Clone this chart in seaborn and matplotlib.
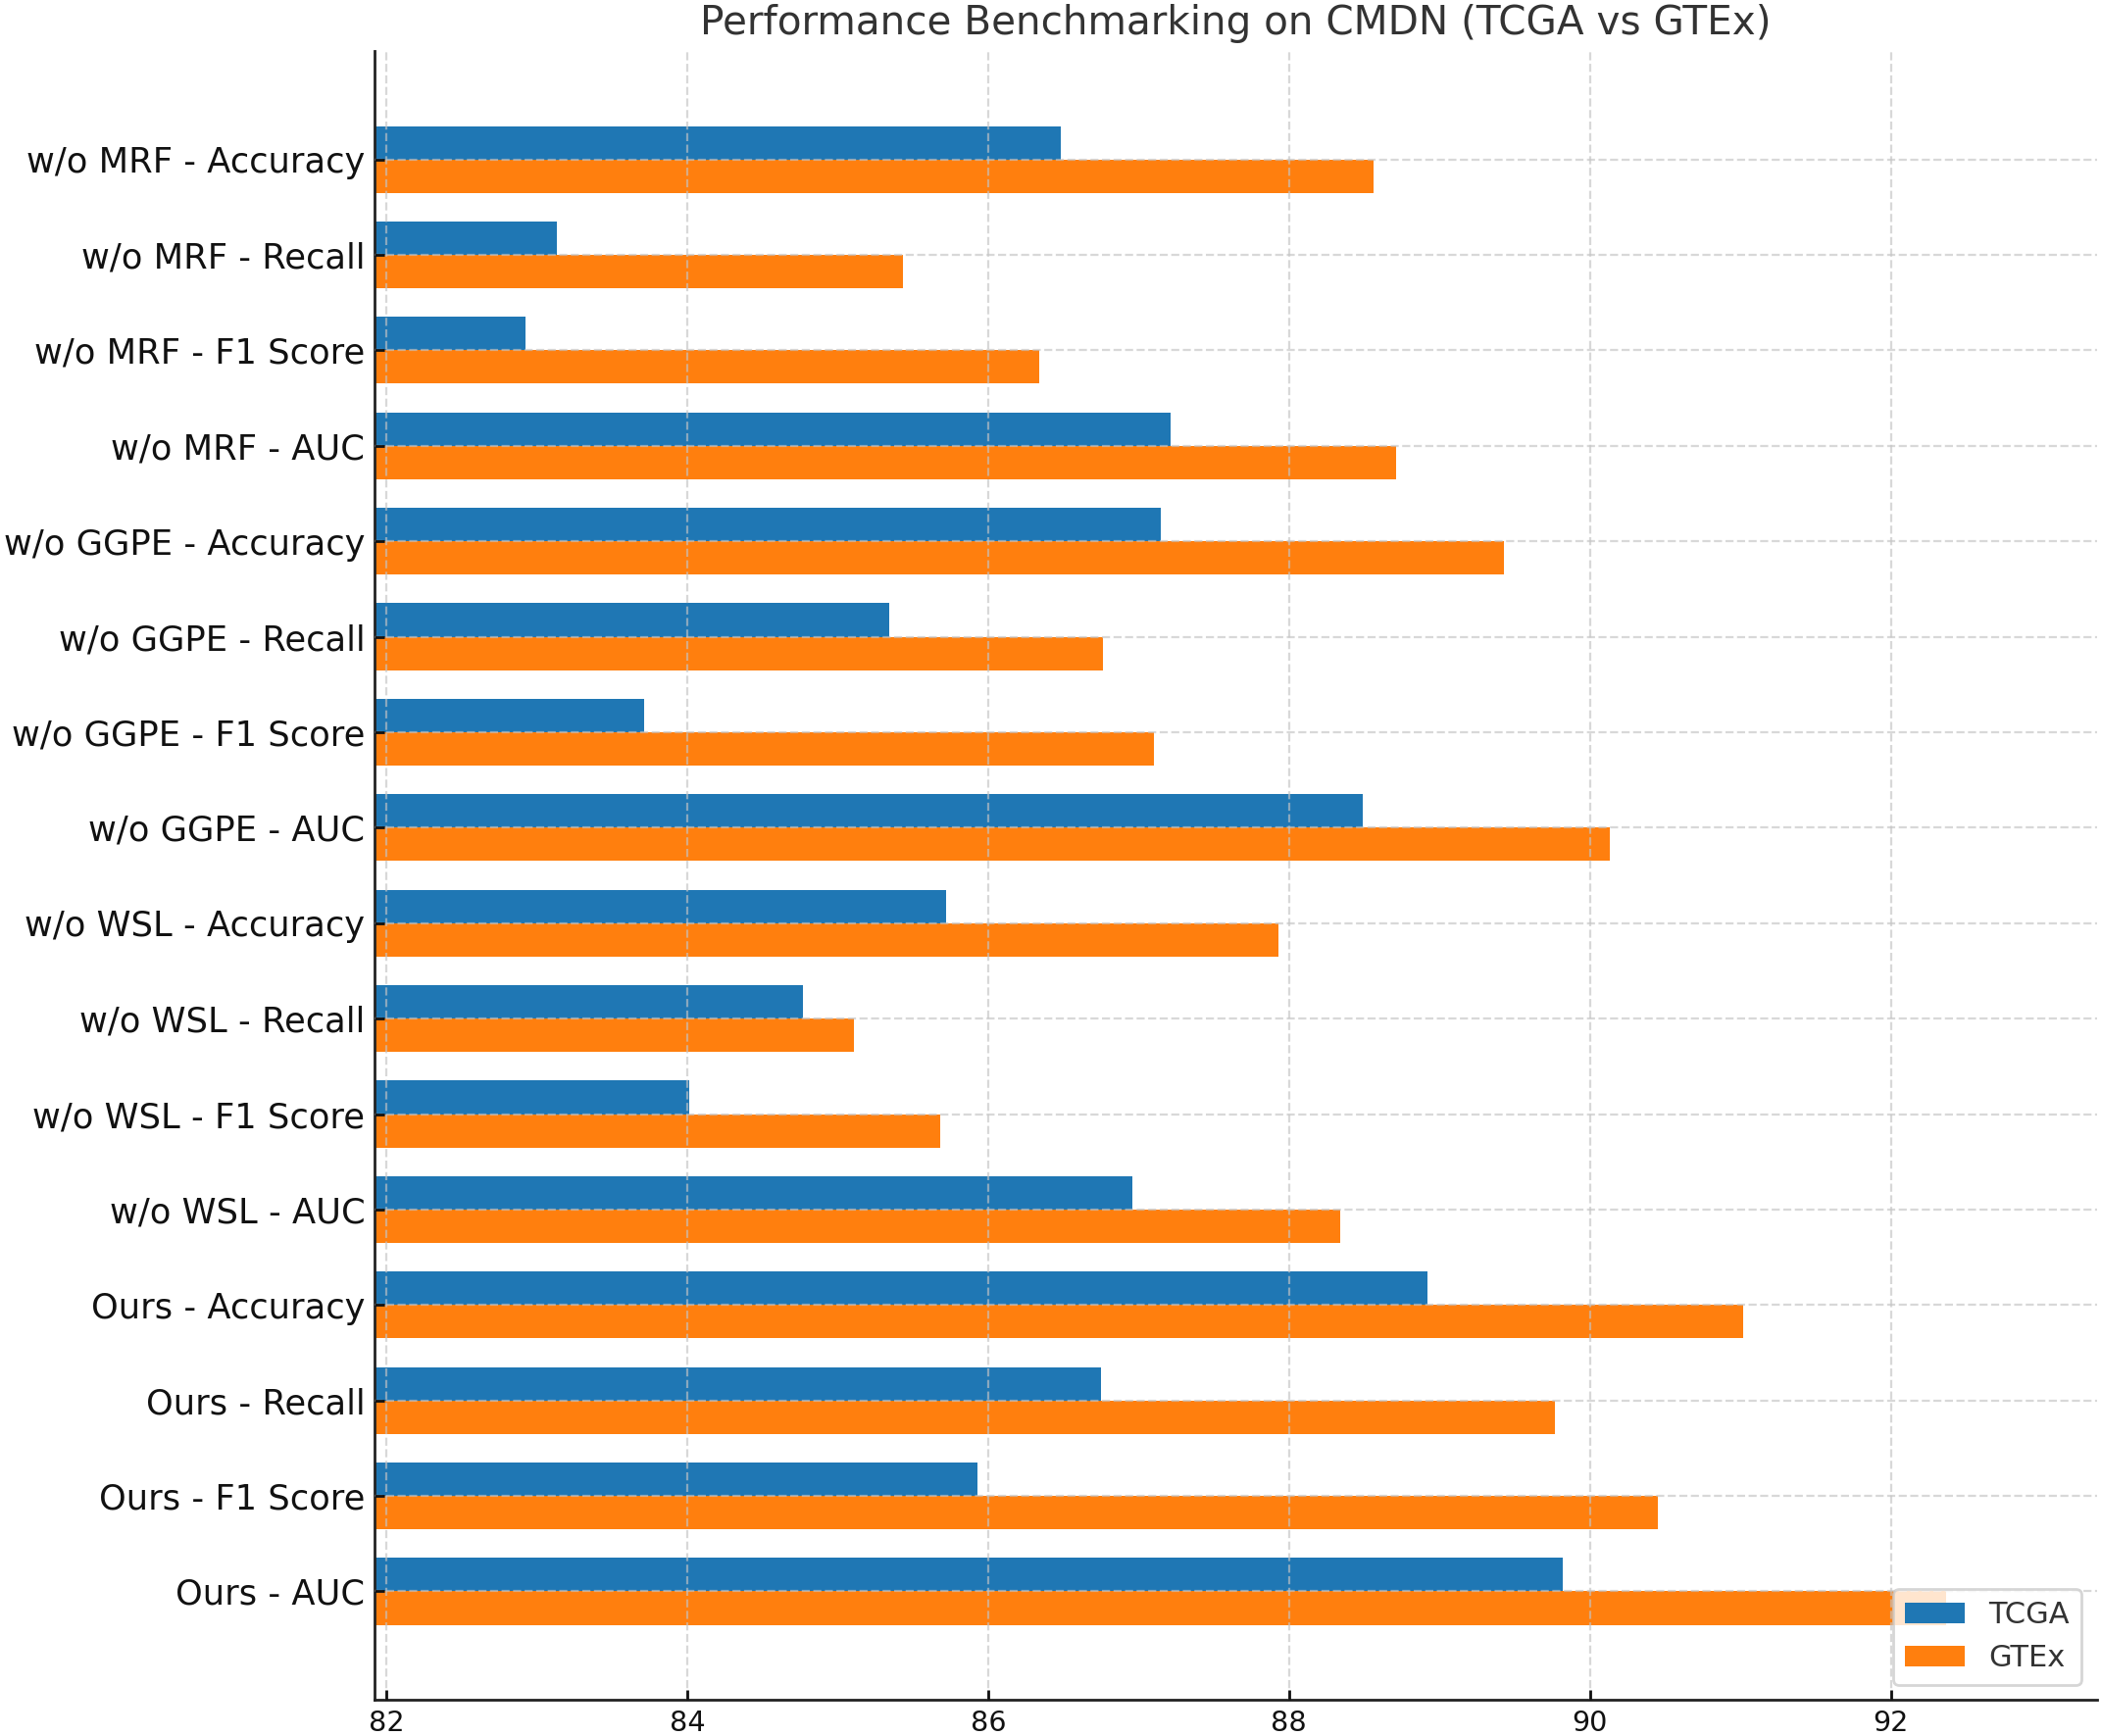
import matplotlib
matplotlib.use("Agg")
import matplotlib.pyplot as plt
import seaborn as sns
import pandas as pd

# values
labels = [
    "w/o MRF - Accuracy", "w/o MRF - Recall", "w/o MRF - F1 Score", "w/o MRF - AUC",
    "w/o GGPE - Accuracy", "w/o GGPE - Recall", "w/o GGPE - F1 Score", "w/o GGPE - AUC",
    "w/o WSL - Accuracy", "w/o WSL - Recall", "w/o WSL - F1 Score", "w/o WSL - AUC",
    "Ours - Accuracy", "Ours - Recall", "Ours - F1 Score", "Ours - AUC",
]
tcga = [86.48, 83.13, 82.92, 87.21,
        87.15, 85.34, 83.71, 88.49,
        85.72, 84.77, 84.01, 86.96,
        88.92, 86.75, 85.93, 89.82]
gtex = [88.56, 85.43, 86.34, 88.71,
        89.43, 86.76, 87.10, 90.13,
        87.93, 85.11, 85.68, 88.34,
        91.02, 89.77, 90.45, 92.37]
datasets = ["TCGA", "GTEx"]
colors = ["#1f77b4", "#ff7f0e"]

n = len(labels)
df = pd.DataFrame({
    "Metric": labels * 2,
    "Dataset": [datasets[0]] * n + [datasets[1]] * n,
    "Score": tcga + gtex,
})

sns.set_theme(style="white", rc={
    "axes.edgecolor": "#222222",
    "axes.linewidth": 1.0,
    "xtick.direction": "in",
    "ytick.direction": "in",
    "xtick.major.size": 3.5,
    "ytick.major.size": 3.5,
    "xtick.bottom": True,
    "ytick.left": True,
})
plt.rcParams["font.family"] = ["DejaVu Sans"]

fig, ax = plt.subplots(figsize=(10.715, 8.855), dpi=200)
fig.subplots_adjust(left=0.1783, right=0.998, top=0.9706, bottom=0.0209)

sns.barplot(data=df, y="Metric", x="Score", hue="Dataset", order=labels,
            hue_order=datasets, palette=colors, orient="h", width=0.7,
            saturation=1, errorbar=None, linewidth=0, ax=ax)

# axis ranges: one unit of padding around the data, default 5% margins on y
lo = min(tcga + gtex) - 1
hi = max(tcga + gtex) + 1
ax.set_xlim(lo, hi)
pad = 0.35 + 0.05 * (n - 1 + 0.7)
ax.set_ylim(n - 1 + pad, -pad)

ax.grid(True, axis="both", linestyle="--", linewidth=0.8, color="#c4c4c4", alpha=0.65)
ax.set_axisbelow(False)
sns.despine(ax=ax)

ax.tick_params(axis="y", labelsize=12.7, colors="#111111", width=1)
ax.tick_params(axis="x", labelsize=10.3, colors="#111111", width=1)
ax.set_xlabel("")
ax.set_ylabel("")
ax.set_title("Performance Benchmarking on CMDN (TCGA vs GTEx)", fontsize=14.6, color="#333333")

handles, hl = ax.get_legend_handles_labels()
leg = ax.legend(handles, hl, loc="lower right", fontsize=11, frameon=True,
                fancybox=True, framealpha=0.8, edgecolor="#cccccc")
for t in leg.get_texts():
    t.set_color("#333333")

fig.savefig("out.png", dpi=200)
